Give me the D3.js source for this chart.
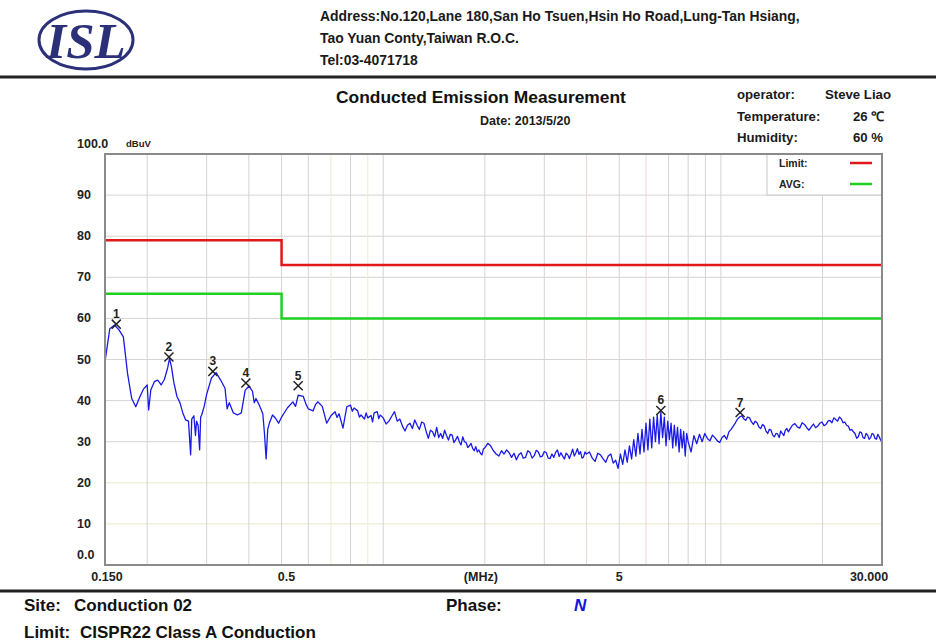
<!DOCTYPE html>
<html>
<head>
<meta charset="utf-8">
<script src="https://cdn.jsdelivr.net/npm/d3@7"></script>
<style>
body { margin: 0; background: #fff; }
svg { display: block; font-family: "Liberation Sans", Arial, sans-serif; }
.grid { stroke: #d4d4d4; stroke-width: 1; }
.frame { fill: none; stroke: #8a8a8a; stroke-width: 2; }
.trace { fill: none; stroke: #1a1ae6; stroke-width: 1.3; stroke-linejoin: round; }
.limit { fill: none; stroke-width: 2.5; }
.axis-label { font-size: 12.5px; font-weight: bold; fill: #222; }
.peak { fill: none; stroke: #222; stroke-width: 1.5; }
.peak-label { font-size: 12px; font-weight: bold; fill: #222; text-anchor: middle; }
</style>
</head>
<body>
<div class="container"></div>
<script>
// ---------- DATA ----------
var addressLines = [
  "Address:No.120,Lane 180,San Ho Tsuen,Hsin Ho Road,Lung-Tan Hsiang,",
  "Tao Yuan Conty,Taiwan R.O.C.",
  "Tel:03-4071718"
];
var infoLabels = ["operator:", "Temperature:", "Humidity:"];
var infoValues = ["Steve Liao", "26 \u2103", "60 %"];

var yTicks = [0, 10, 20, 30, 40, 50, 60, 70, 80, 90, 100];
var yTickLabels = ["0.0", "10", "20", "30", "40", "50", "60", "70", "80", "90", "100.0"];
var xGrid = [0.2, 0.3, 0.4, 0.5, 0.6, 0.7, 0.8, 0.9, 1, 2, 3, 4, 5, 6, 7, 8, 9, 10, 20];
var xTickFreqs = [0.15, 0.5, 2, 5, 30];
var xTickLabels = ["0.150", "0.5", "(MHz)", "5", "30.000"];

// limit lines (MHz, dBuV)
var limitFreqs = [0.15, 0.5, 0.5, 30];
var limitQP = [79, 79, 73, 73];
var limitAVG = [66, 66, 60, 60];
var legendNames = ["Limit:", "AVG:"];

// marked peaks
var peakLabels = ["1", "2", "3", "4", "5", "6", "7"];
var peakFreqs = [0.162, 0.232, 0.313, 0.392, 0.56, 6.64, 11.4];
var peakLevels = [58.6, 50.6, 47.1, 44.3, 43.6, 37.6, 37.1];

// measured trace (MHz, dBuV)
var trace = [
  [0.150, 49.5], [0.155, 57.5], [0.160, 58.4], [0.165, 57.2], [0.170, 55.5], [0.175, 46.5],
  [0.180, 40.5], [0.185, 38.5], [0.190, 40.8], [0.195, 42.8], [0.200, 43.8], [0.202, 37.7],
  [0.205, 42.6], [0.210, 44.6], [0.215, 45.0], [0.220, 43.8], [0.225, 45.2], [0.230, 48.0],
  [0.233, 50.3], [0.236, 48.2], [0.240, 44.3], [0.245, 41.0], [0.250, 39.5], [0.255, 37.0],
  [0.260, 35.3], [0.265, 35.0], [0.269, 26.8], [0.271, 35.5], [0.275, 36.3], [0.278, 31.5],
  [0.280, 35.0], [0.283, 34.0], [0.286, 28.0], [0.288, 36.0], [0.290, 36.5], [0.295, 38.6],
  [0.300, 41.5], [0.31, 45.5], [0.32, 46.8], [0.33, 45.0], [0.34, 43.0], [0.345, 38.0],
  [0.35, 39.5], [0.36, 37.0], [0.37, 36.5], [0.38, 37.0], [0.39, 42.5], [0.40, 43.5],
  [0.41, 42.3], [0.415, 39.5], [0.42, 40.5], [0.43, 38.8], [0.44, 36.8], [0.445, 32.0],
  [0.45, 25.8], [0.455, 33.0], [0.46, 34.5], [0.47, 36.5], [0.48, 35.7], [0.49, 34.5],
  [0.50, 36.0], [0.52, 38.2], [0.54, 39.7], [0.55, 38.6], [0.56, 41.3], [0.58, 41.0],
  [0.59, 39.2], [0.60, 38.0], [0.62, 37.5], [0.63, 39.0], [0.64, 39.7], [0.66, 38.6],
  [0.68, 34.5], [0.70, 36.3], [0.72, 37.3], [0.73, 35.9], [0.74, 36.8], [0.76, 33.3],
  [0.78, 38.5], [0.80, 38.9], [0.81, 37.4], [0.82, 38.2], [0.84, 37.5], [0.85, 36.0],
  [0.86, 36.5], [0.88, 35.5], [0.89, 37.0], [0.90, 35.8], [0.92, 36.4], [0.93, 34.8],
  [0.94, 37.0], [0.96, 37.3], [0.97, 35.6], [0.98, 36.5], [1.00, 35.8],
  [1.02, 34.3], [1.04, 35.0], [1.06, 36.2], [1.08, 37.3], [1.10, 35.0], [1.12, 35.5],
  [1.14, 33.8], [1.16, 32.6], [1.18, 34.0], [1.20, 34.5], [1.22, 33.2], [1.24, 35.3],
  [1.26, 34.0], [1.28, 33.0], [1.30, 34.8], [1.32, 34.5], [1.34, 32.5], [1.36, 30.8],
  [1.38, 32.8], [1.40, 32.4], [1.42, 31.2], [1.44, 33.5], [1.46, 31.0], [1.48, 32.0],
  [1.50, 30.8], [1.52, 32.8], [1.54, 31.5], [1.56, 30.4], [1.58, 31.8], [1.60, 31.6],
  [1.62, 29.8], [1.64, 30.5], [1.66, 31.3], [1.68, 30.0], [1.70, 29.2], [1.72, 31.2],
  [1.74, 30.0], [1.76, 29.8], [1.78, 28.6], [1.80, 29.0], [1.82, 29.6], [1.84, 28.4],
  [1.86, 27.8], [1.88, 28.8], [1.90, 27.5], [1.92, 28.0], [1.94, 27.2], [1.96, 26.8],
  [1.98, 28.2], [2.00, 28.5],
  [2.04, 29.6], [2.08, 29.0], [2.12, 27.8], [2.16, 27.0], [2.20, 26.5], [2.24, 27.8],
  [2.28, 27.0], [2.32, 28.0], [2.36, 27.3], [2.40, 26.2], [2.44, 27.2], [2.48, 25.6],
  [2.52, 26.8], [2.56, 27.3], [2.60, 26.0], [2.64, 26.2], [2.68, 27.8], [2.72, 27.4],
  [2.76, 26.0], [2.80, 26.6], [2.84, 27.9], [2.88, 27.5], [2.92, 26.3], [2.96, 26.5],
  [3.00, 27.6], [3.04, 27.3], [3.08, 26.0], [3.12, 25.9], [3.16, 27.0], [3.20, 26.2],
  [3.24, 27.4], [3.28, 28.0], [3.32, 26.4], [3.36, 27.3], [3.40, 26.5], [3.44, 25.8],
  [3.48, 27.2], [3.52, 26.8], [3.56, 25.9], [3.60, 27.0], [3.64, 28.2], [3.68, 26.5],
  [3.72, 27.3], [3.76, 28.3], [3.80, 26.9], [3.84, 27.6], [3.88, 26.0], [3.92, 26.3],
  [3.96, 27.5], [4.00, 27.0],
  [4.08, 27.5], [4.16, 26.0], [4.24, 25.2], [4.32, 27.2], [4.40, 26.8], [4.48, 25.8],
  [4.56, 25.0], [4.64, 26.5], [4.72, 27.0], [4.80, 24.8], [4.88, 25.5], [4.96, 23.5],
  [5.04, 27.0], [5.12, 24.5], [5.20, 28.0], [5.28, 25.0], [5.36, 29.0], [5.44, 25.8],
  [5.52, 30.5], [5.60, 26.5], [5.68, 32.0], [5.76, 27.0], [5.84, 33.0], [5.92, 27.5],
  [6.00, 34.5], [6.08, 28.0], [6.16, 35.5], [6.24, 28.5], [6.32, 36.0], [6.40, 30.0],
  [6.48, 36.5], [6.56, 29.5], [6.64, 37.2], [6.72, 31.0], [6.80, 36.0], [6.88, 29.0],
  [6.96, 35.0], [7.04, 30.5], [7.12, 34.5], [7.20, 28.5], [7.28, 34.0], [7.36, 29.0],
  [7.44, 33.5], [7.52, 27.5], [7.60, 33.0], [7.68, 28.5], [7.76, 32.5], [7.84, 26.5],
  [7.92, 32.0], [8.00, 30.0],
  [8.16, 27.5], [8.32, 31.5], [8.48, 29.5], [8.64, 31.8], [8.80, 30.0], [8.96, 32.0],
  [9.12, 30.8], [9.28, 30.2], [9.44, 31.6], [9.60, 31.0], [9.76, 30.2], [9.92, 29.8],
  [10.08, 31.0], [10.24, 31.5], [10.40, 30.6], [10.56, 32.4], [10.72, 33.0], [10.88, 33.8],
  [11.04, 34.6], [11.20, 35.5], [11.36, 36.0], [11.52, 36.3], [11.68, 35.6], [11.84, 35.2],
  [12.00, 36.0], [12.16, 35.8], [12.32, 34.8], [12.48, 34.2], [12.64, 35.0], [12.80, 34.6],
  [12.96, 33.6], [13.12, 33.2], [13.28, 34.2], [13.44, 33.8], [13.60, 32.6], [13.76, 32.0],
  [13.92, 33.0], [14.08, 32.8], [14.24, 31.6], [14.40, 31.2], [14.56, 32.0], [14.72, 31.9],
  [14.88, 31.0], [15.04, 32.6], [15.20, 32.0], [15.36, 31.5], [15.52, 32.8], [15.68, 33.2],
  [15.84, 32.4], [16.00, 33.0],
  [16.28, 34.0], [16.56, 34.4], [16.84, 33.6], [17.12, 33.3], [17.40, 34.6], [17.68, 34.2],
  [17.96, 33.4], [18.24, 32.8], [18.52, 33.6], [18.80, 34.3], [19.08, 33.4], [19.36, 33.8],
  [19.64, 34.5], [19.92, 34.8], [20.20, 33.9], [20.48, 34.2], [20.76, 35.0], [21.04, 35.2],
  [21.32, 34.6], [21.60, 35.8], [21.88, 35.4], [22.16, 35.0], [22.44, 36.0], [22.72, 35.6],
  [23.00, 34.6], [23.28, 34.8], [23.56, 34.0], [23.84, 33.8], [24.12, 32.8], [24.40, 33.0],
  [24.68, 32.4], [24.96, 32.0], [25.24, 30.8], [25.52, 31.2], [25.80, 32.4], [26.08, 32.2],
  [26.36, 31.0], [26.64, 30.8], [26.92, 32.0], [27.20, 31.6], [27.48, 30.6], [27.76, 31.0],
  [28.04, 32.0], [28.32, 31.8], [28.60, 30.8], [28.88, 30.6], [29.16, 31.8], [29.44, 31.2],
  [29.72, 30.4], [30.00, 29.8]
];

var width = 936,
    height = 644;

var plot = { left: 105, right: 882, top: 154, bottom: 565 };

var x = d3.scaleLog()
    .domain([0.15, 30])
    .range([plot.left, plot.right]);

var y = d3.scaleLinear()
    .domain([0, 100])
    .range([plot.bottom, plot.top]);

var svg = d3.select(".container").append("svg")
    .attr("width", width)
    .attr("height", height);

// ---------- HEADER ----------
var navy = "#2b3079";
svg.append("ellipse")
    .attr("cx", 86).attr("cy", 40)
    .attr("rx", 47).attr("ry", 29)
    .attr("fill", "none")
    .attr("stroke", navy)
    .attr("stroke-width", 3);

svg.append("text")
    .attr("x", 86).attr("y", 58)
    .attr("text-anchor", "middle")
    .attr("font-family", "'Liberation Serif', 'DejaVu Serif', serif")
    .attr("font-weight", "bold")
    .attr("font-style", "italic")
    .attr("font-size", 51)
    .attr("fill", navy)
    .text("ISL");

svg.selectAll(".address")
    .data(addressLines)
    .enter().append("text")
    .attr("class", "address")
    .attr("x", 320)
    .attr("y", function(d, i) { return 21 + i * 22; })
    .attr("font-size", 13.9)
    .attr("font-weight", "bold")
    .attr("fill", "#1a1a1a")
    .text(function(d) { return d; });

svg.append("line")
    .attr("x1", 0).attr("x2", width)
    .attr("y1", 77).attr("y2", 77)
    .attr("stroke", "#222")
    .attr("stroke-width", 3);

svg.append("text")
    .attr("x", 336).attr("y", 103)
    .attr("font-size", 17.4)
    .attr("font-weight", "bold")
    .attr("fill", "#111")
    .text("Conducted Emission Measurement");

svg.append("text")
    .attr("x", 480).attr("y", 125)
    .attr("font-size", 12.5)
    .attr("font-weight", "bold")
    .attr("fill", "#1a1a1a")
    .text("Date: 2013/5/20");

svg.selectAll(".info-label")
    .data(infoLabels)
    .enter().append("text")
    .attr("class", "info-label")
    .attr("x", 737)
    .attr("y", function(d, i) { return 99 + i * 21.5; })
    .attr("font-size", 13.2)
    .attr("font-weight", "bold")
    .attr("fill", "#1a1a1a")
    .text(function(d) { return d; });

svg.selectAll(".info-value")
    .data(infoValues)
    .enter().append("text")
    .attr("class", "info-value")
    .attr("x", function(d, i) { return i === 0 ? 825 : 853; })
    .attr("y", function(d, i) { return 99 + i * 21.5; })
    .attr("font-size", 13.2)
    .attr("font-weight", "bold")
    .attr("fill", "#1a1a1a")
    .text(function(d) { return d; });

// ---------- GRID ----------
svg.selectAll(".hgrid")
    .data(yTicks.filter(function(d) { return d > 0 && d < 100; }))
    .enter().append("line")
    .attr("class", "grid hgrid")
    .attr("x1", plot.left).attr("x2", plot.right)
    .attr("y1", function(d) { return y(d); })
    .attr("y2", function(d) { return y(d); })
    .style("stroke", function(d) { return d <= 20 ? "#ecebc8" : null; });

svg.selectAll(".vgrid")
    .data(xGrid)
    .enter().append("line")
    .attr("class", "grid vgrid")
    .attr("x1", function(d) { return x(d); })
    .attr("x2", function(d) { return x(d); })
    .attr("y1", plot.top).attr("y2", plot.bottom)
    .style("stroke", function(d) {
      if (d === 0.7 || d === 0.9) return "#efeccb";
      if (d === 4 || d === 6) return "#f1d6d6";
      return null;
    });

// ---------- LIMITS ----------
var limitLine = d3.line()
    .x(function(d) { return x(d[0]); })
    .y(function(d) { return y(d[1]); });

svg.append("path")
    .datum(d3.zip(limitFreqs, limitQP))
    .attr("class", "limit")
    .attr("stroke", "#e01818")
    .attr("d", limitLine);

svg.append("path")
    .datum(d3.zip(limitFreqs, limitAVG))
    .attr("class", "limit")
    .attr("stroke", "#1fd01f")
    .attr("d", limitLine);

// ---------- TRACE ----------
svg.append("path")
    .datum(trace)
    .attr("class", "trace")
    .attr("d", limitLine);

// ---------- PEAKS ----------
var marker = d3.symbol().type(d3.symbolTimes).size(55);
var peaks = d3.zip(peakLabels, peakFreqs, peakLevels);

svg.selectAll(".peak")
    .data(peaks)
    .enter().append("path")
    .attr("class", "peak")
    .attr("transform", function(d) { return "translate(" + x(d[1]) + "," + y(d[2]) + ")"; })
    .attr("d", marker);

svg.selectAll(".peak-label")
    .data(peaks)
    .enter().append("text")
    .attr("class", "peak-label")
    .attr("x", function(d) { return x(d[1]); })
    .attr("y", function(d) { return y(d[2]) - 6; })
    .text(function(d) { return d[0]; });

// ---------- LEGEND ----------
var legend = svg.append("g");
legend.append("rect")
    .attr("x", 767).attr("y", plot.top)
    .attr("width", plot.right - 767).attr("height", 41)
    .attr("fill", "#fff")
    .attr("stroke", "#c8c8c8");

legend.selectAll(".legend-text")
    .data(legendNames)
    .enter().append("text")
    .attr("x", 779)
    .attr("y", function(d, i) { return 167 + i * 21; })
    .attr("font-size", 10.5)
    .attr("font-weight", "bold")
    .attr("fill", "#222")
    .text(function(d) { return d; });

legend.selectAll(".legend-line")
    .data(["#e01818", "#1fd01f"])
    .enter().append("line")
    .attr("x1", 850).attr("x2", 872)
    .attr("y1", function(d, i) { return 163 + i * 21; })
    .attr("y2", function(d, i) { return 163 + i * 21; })
    .attr("stroke", function(d) { return d; })
    .attr("stroke-width", 2.5);

// ---------- FRAME & AXES ----------
svg.append("rect")
    .attr("class", "frame")
    .attr("x", plot.left).attr("y", plot.top)
    .attr("width", plot.right - plot.left)
    .attr("height", plot.bottom - plot.top);

svg.selectAll(".ylab")
    .data(yTicks)
    .enter().append("text")
    .attr("class", "axis-label ylab")
    .attr("x", 77)
    .attr("y", function(d) { return y(d) + 4 - (d === 0 || d === 100 ? 10 : 0); })
    .text(function(d, i) { return yTickLabels[i]; });

svg.append("text")
    .attr("class", "axis-label")
    .attr("x", 126).attr("y", 147)
    .style("font-size", "9.5px")
    .text("dBuV");

svg.selectAll(".xlab")
    .data(xTickFreqs)
    .enter().append("text")
    .attr("class", "axis-label xlab")
    .attr("x", function(d, i) { return x(d) + [2, 5, -4, 0, -13][i]; })
    .attr("y", 581)
    .attr("text-anchor", "middle")
    .text(function(d, i) { return xTickLabels[i]; });

// ---------- FOOTER ----------
svg.append("line")
    .attr("x1", 0).attr("x2", width)
    .attr("y1", 591).attr("y2", 591)
    .attr("stroke", "#222")
    .attr("stroke-width", 3);

var footer = svg.append("g")
    .attr("font-size", 17)
    .attr("font-weight", "bold")
    .attr("fill", "#111");

footer.append("text").attr("x", 24).attr("y", 611).text("Site:");
footer.append("text").attr("x", 74).attr("y", 611).text("Conduction 02");
footer.append("text").attr("x", 446).attr("y", 611).text("Phase:");
footer.append("text").attr("x", 574).attr("y", 611)
    .attr("fill", "#1414e0")
    .attr("font-style", "italic")
    .text("N");
footer.append("text").attr("x", 24).attr("y", 638).text("Limit:");
footer.append("text").attr("x", 80).attr("y", 638).text("CISPR22 Class A Conduction");
</script>
</body>
</html>
